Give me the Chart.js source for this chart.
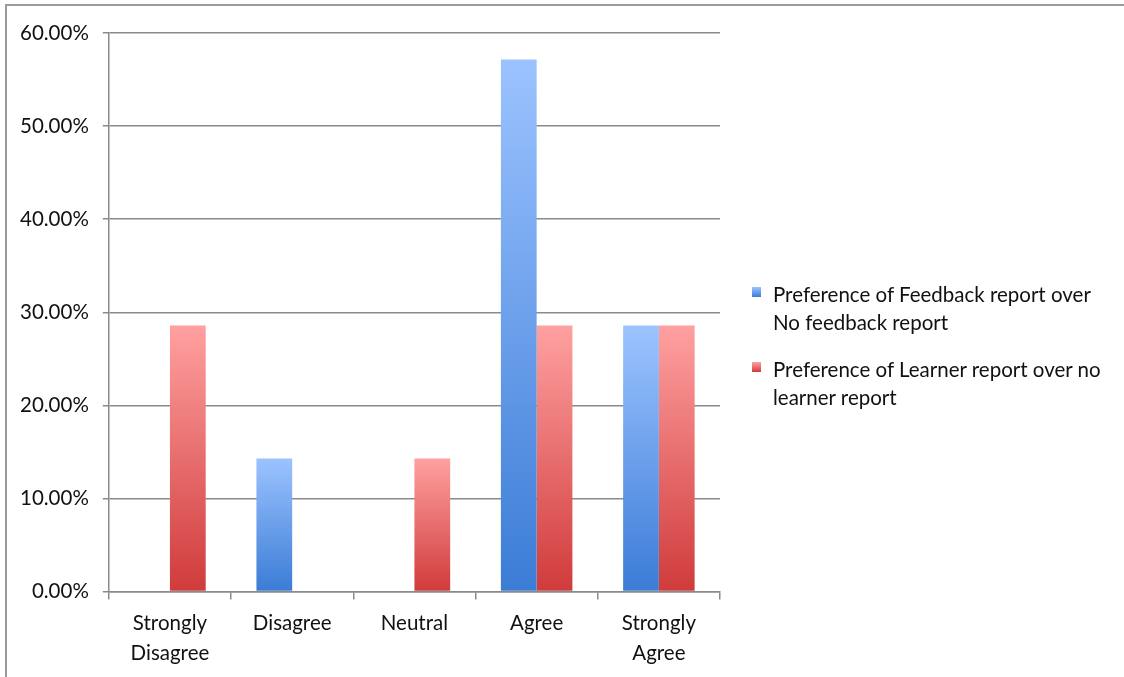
<!DOCTYPE html>
<html>
<head>
<meta charset="utf-8">
<script src="https://cdn.jsdelivr.net/npm/chart.js@4"></script>
<style>
  html, body { margin: 0; padding: 0; background: #fff; }
  #wrap { position: relative; width: 1124px; height: 677px; overflow: hidden; }
  #frame { position: absolute; left: 5px; top: 4px; right: -10px; bottom: -10px;
           border-top: 2px solid #9a9a9a; border-left: 2px solid #9a9a9a; }
  canvas { position: absolute; left: 0; top: 0; }
  #legend { position: absolute; left: 752px; top: 280px; width: 363px;
            font-family: Lato, "Open Sans", sans-serif; font-size: 20.5px; color: #111; line-height: 28px; }
  .item { position: relative; padding-left: 21px; margin-bottom: 19px; }
  .sw { position: absolute; left: 0; top: 7px; width: 9px; height: 10px; }
</style>
</head>
<body>
<div id="wrap">
  <div id="frame"></div>
  <canvas id="chart" width="1124" height="677"></canvas>
  <div id="legend"></div>
</div>
<script>
const categories = [['Strongly', 'Disagree'], 'Disagree', 'Neutral', 'Agree', ['Strongly', 'Agree']];
const seriesNames = ['Preference of Feedback report over No feedback report',
                     'Preference of Learner report over no learner report'];
const feedbackPct = [0, 14.29, 0, 57.14, 28.57];
const learnerPct = [28.57, 0, 14.29, 28.57, 28.57];
const yTicks = [0, 10, 20, 30, 40, 50, 60];

const palette = [
  { top: '#9cc3ff', bottom: '#3b7cd6' },
  { top: '#ffa0a0', bottom: '#d03b3b' }
];

const byId = (id) => document.getElementById(id);

// each bar runs light at its top to dark at its base
const gradFill = (i) => (ctx) => {
  const { chart } = ctx;
  const ys = chart.scales.y;
  if (!chart.chartArea || !ys || ctx.type !== 'data') return palette[i].bottom;
  const top = ys.getPixelForValue(ctx.raw);
  const base = ys.getPixelForValue(0);
  if (!(base - top > 0)) return palette[i].bottom;
  const g = chart.ctx.createLinearGradient(0, top, 0, base);
  g.addColorStop(0, palette[i].top);
  g.addColorStop(1, palette[i].bottom);
  return g;
};

const font = { family: 'Lato, "Open Sans", sans-serif', size: 20.5 };

new Chart(byId('chart').getContext('2d'), {
  type: 'bar',
  data: {
    labels: categories,
    datasets: [feedbackPct, learnerPct].map((d, i) => ({
      label: seriesNames[i],
      data: d,
      backgroundColor: gradFill(i),
      borderWidth: 0,
      barPercentage: 1,
      categoryPercentage: 0.585
    }))
  },
  options: {
    responsive: false,
    animation: false,
    layout: { padding: { top: 33, right: 404, left: 6, bottom: 0 } },
    scales: {
      x: {
        grid: { offset: true, drawOnChartArea: false, color: '#8a8a8a', lineWidth: 1.5, tickLength: 8 },
        border: { color: '#8a8a8a', width: 1.5 },
        ticks: { color: '#111', font: { ...font, lineHeight: 1.45 }, padding: 9, maxRotation: 0, autoSkip: false }
      },
      y: {
        min: 0, max: 60,
        afterBuildTicks: (ax) => { ax.ticks = yTicks.map(v => ({ value: v })); },
        grid: { color: '#8a8a8a', lineWidth: 1.5, tickLength: 6 },
        border: { color: '#8a8a8a', width: 1.5 },
        ticks: { color: '#111', font, padding: 14, callback: (v) => v.toFixed(2) + '%' }
      }
    },
    plugins: { legend: { display: false }, tooltip: { enabled: false } }
  }
});

// legend with wrapped text, as in the original
byId('legend').innerHTML = seriesNames.map((n, i) =>
  `<div class="item"><span class="sw" style="background:linear-gradient(${palette[i].top},${palette[i].bottom})"></span>${n}</div>`
).join('');
</script>
</body>
</html>
